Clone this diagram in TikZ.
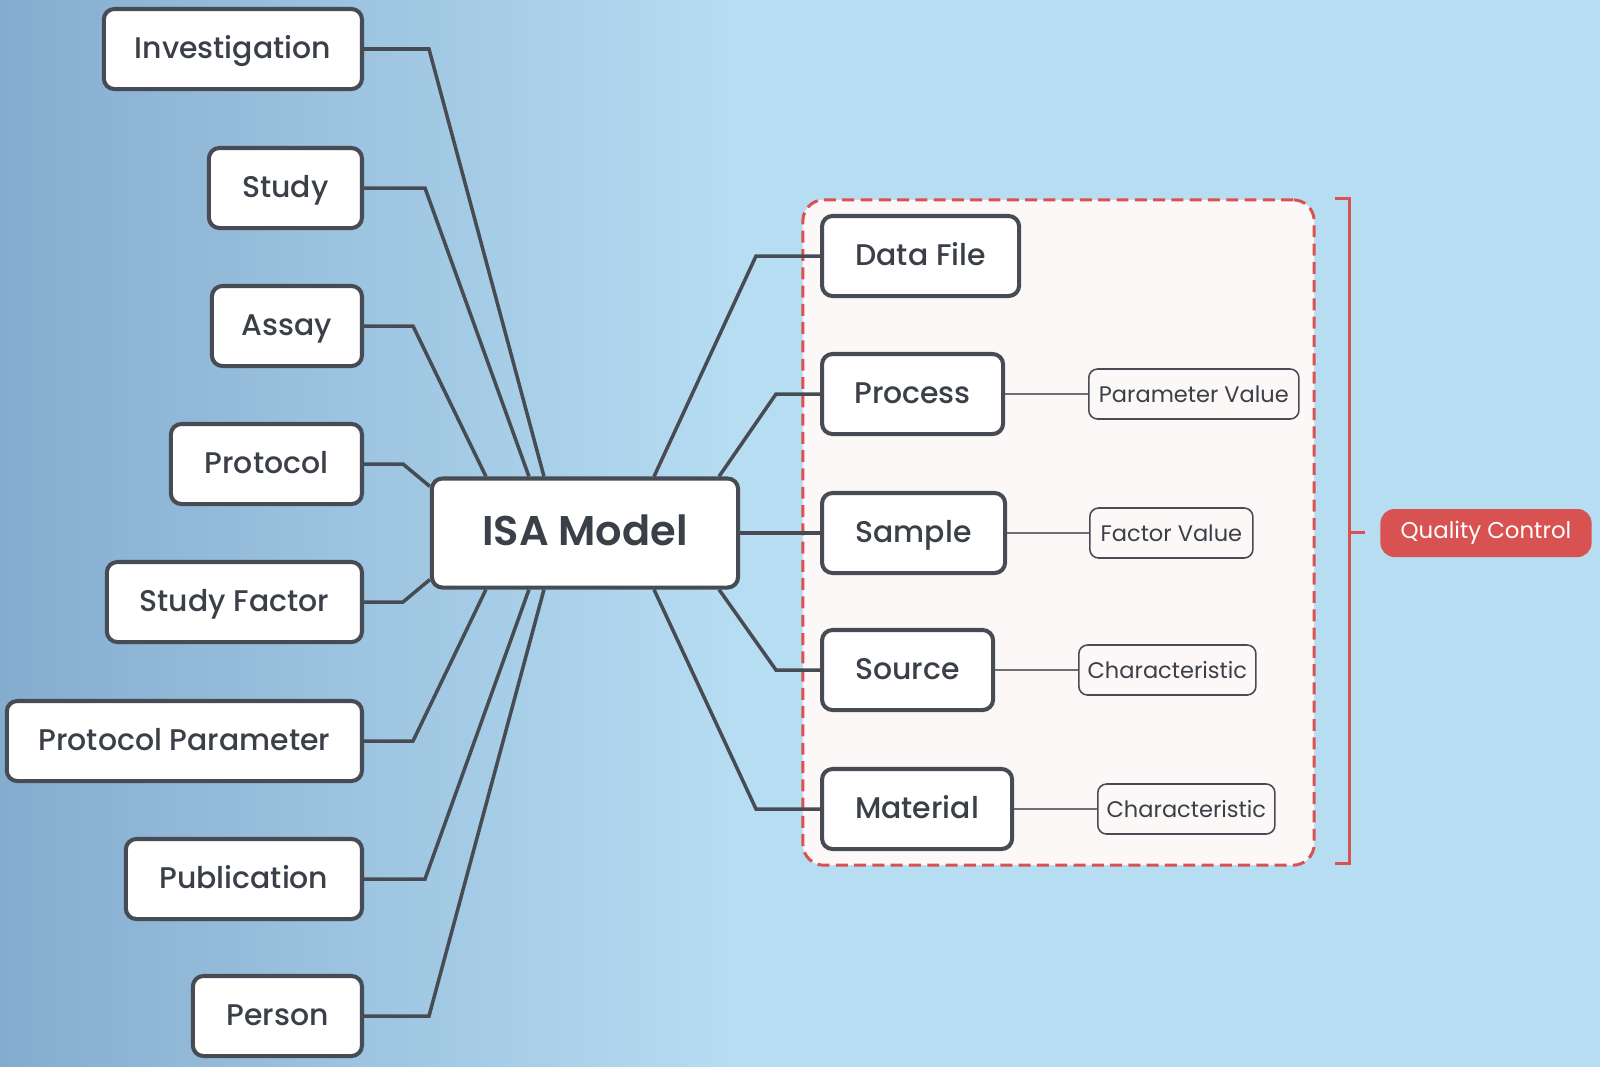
\documentclass[tikz,border=0pt]{standalone}
\usepackage{fontspec}
\setmainfont{Poppins}[UprightFont=* Medium, BoldFont=* SemiBold]
\newfontfamily\finofont{Poppins}
\usetikzlibrary{positioning}
\definecolor{fondoIzq}{HTML}{84ACCE}
\definecolor{fondoDer}{HTML}{B7DDF3}
\definecolor{borde}{HTML}{474C54}
\definecolor{texto}{HTML}{3A3F48}
\definecolor{rojo}{HTML}{D95252}
\definecolor{crema}{HTML}{FCF8F7}
\pgfdeclarehorizontalshading{fondo}{100bp}{color(0bp)=(fondoIzq); color(25bp)=(fondoIzq); color(48bp)=(fondoDer); color(100bp)=(fondoDer)}
\begin{document}
\begin{tikzpicture}[
    x=0.01cm, y=-0.01cm,
    every node/.style={text=texto},
    clase/.style={draw=borde, line width=1.15pt, fill=white, rounded corners=3pt,
        minimum height=0.8cm, inner sep=0pt, text height=0.75em, text depth=0.19em,
        font=\fontsize{8.5}{10}\selectfont},
    central/.style={clase, minimum width=3.06cm, minimum height=1.09cm,
        text height=0.8em, text depth=0.1em, font=\fontsize{11.8}{14}\bfseries\selectfont},
    atributo/.style={draw=borde, line width=0.45pt, fill=crema, rounded corners=2.5pt,
        minimum height=0.5cm, inner sep=0pt, font=\finofont\fontsize{6.4}{8}\selectfont},
    conector/.style={draw=borde, line width=1pt},
    fino/.style={draw=borde!80, line width=0.4pt}
]
% Fondo
\shade[shading=fondo] (0,0) rectangle (1600,1066);
\useasboundingbox (0,0) rectangle (1600,1066);
% Grupo de control de calidad
\node[draw=rojo, line width=0.85pt, dash pattern=on 3.4pt off 1.8pt, fill=crema,
    rounded corners=6pt, minimum width=5.11cm, minimum height=6.65cm, inner sep=0pt]
    (grupo) at (1058.5,532.5) {};
% Modelo central
\node[central] (isa) at (585,533) {ISA Model};
% Clases de la izquierda
\node[clase, anchor=east, minimum width=2.58cm] (investigation) at (364,49) {Investigation};
\node[clase, anchor=east, minimum width=1.53cm] (study) at (364,188) {Study};
\node[clase, anchor=east, minimum width=1.50cm] (assay) at (364,326) {Assay};
\node[clase, anchor=east, minimum width=1.91cm] (protocol) at (364,464) {Protocol};
\node[clase, anchor=east, minimum width=2.55cm] (studyfactor) at (364,602) {Study Factor};
\node[clase, anchor=east, minimum width=3.55cm] (protocolparam) at (364,741) {Protocol Parameter};
\node[clase, anchor=east, minimum width=2.36cm] (publication) at (364,879) {Publication};
\node[clase, anchor=east, minimum width=1.69cm] (person) at (364,1016) {Person};
% Clases de la derecha
\node[clase, anchor=west, minimum width=1.97cm] (datafile) at (820,256) {Data File};
\node[clase, anchor=west, minimum width=1.81cm] (process) at (820,394) {Process};
\node[clase, anchor=west, minimum width=1.83cm] (sample) at (820,533) {Sample};
\node[clase, anchor=west, minimum width=1.71cm] (source) at (820,670) {Source};
\node[clase, anchor=west, minimum width=1.90cm] (material) at (820,809) {Material};
% Atributos
\node[atributo, anchor=west, minimum width=2.10cm] (paramvalue) at (1088,394) {Parameter Value};
\node[atributo, anchor=west, minimum width=1.63cm] (factorvalue) at (1089,533) {Factor Value};
\node[atributo, anchor=west, minimum width=1.77cm] (charsource) at (1078,670) {Characteristic};
\node[atributo, anchor=west, minimum width=1.77cm] (charmaterial) at (1097,809) {Characteristic};
% Etiqueta
\node[fill=rojo, rounded corners=4pt, text=white, minimum width=2.11cm, minimum height=0.48cm,
    inner sep=0pt, font=\finofont\fontsize{6.5}{8}\selectfont] (calidad) at (1486,533) {Quality Control};
% Aristas izquierda
\draw[conector] (investigation.east) -- ++(65,0) -- ([xshift=1.14cm]isa.north west);
\draw[conector] (study.east) -- ++(61,0) -- ([xshift=0.99cm]isa.north west);
\draw[conector] (assay.east) -- ++(49,0) -- ([xshift=0.56cm]isa.north west);
\draw[conector] (protocol.east) -- ++(39,0) -- ([yshift=-0.1cm]isa.north west);
\draw[conector] (studyfactor.east) -- ++(39,0) -- ([yshift=0.1cm]isa.south west);
\draw[conector] (protocolparam.east) -- ++(49,0) -- ([xshift=0.56cm]isa.south west);
\draw[conector] (publication.east) -- ++(61,0) -- ([xshift=0.99cm]isa.south west);
\draw[conector] (person.east) -- ++(65,0) -- ([xshift=1.14cm]isa.south west);
% Aristas derecha
\draw[conector] ([xshift=2.24cm]isa.north west) -- (756,256) -- (datafile.west);
\draw[conector] ([xshift=2.89cm]isa.north west) -- (776,394) -- (process.west);
\draw[conector] (isa.east) -- (sample.west);
\draw[conector] ([xshift=2.89cm]isa.south west) -- (776,670) -- (source.west);
\draw[conector] ([xshift=2.24cm]isa.south west) -- (756,809) -- (material.west);
% Atributos
\draw[fino] (process.east) -- (paramvalue.west);
\draw[fino] (sample.east) -- (factorvalue.west);
\draw[fino] (source.east) -- (charsource.west);
\draw[fino] (material.east) -- (charmaterial.west);
% Llave
\draw[draw=rojo, line width=0.75pt] ([xshift=0.19cm]grupo.north east) -- ++(15,0) -- ++(0,665) -- ++(-15,0);
\draw[draw=rojo, line width=0.75pt] ([xshift=0.34cm]grupo.east) -- ++(15,0);
\end{tikzpicture}
\end{document}
